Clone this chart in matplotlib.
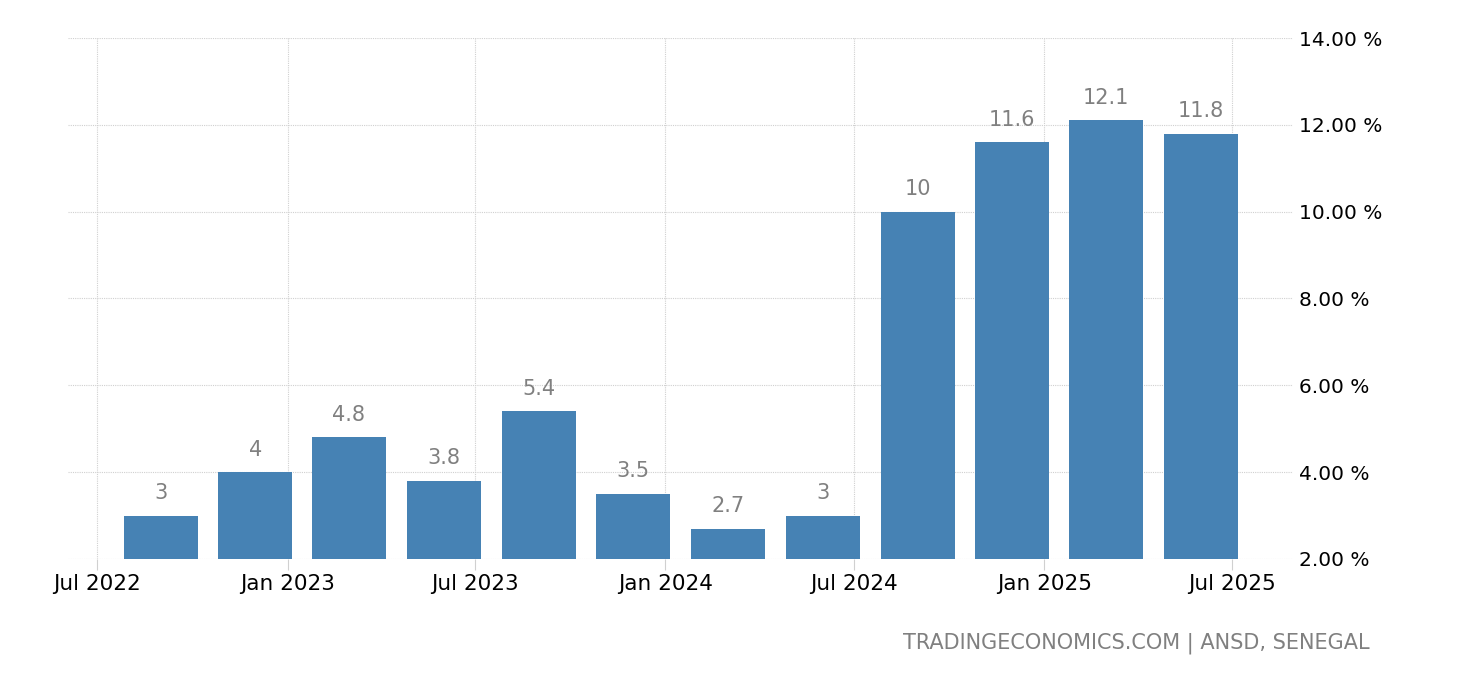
import matplotlib
matplotlib.use("Agg")
import matplotlib.pyplot as plt
import matplotlib.dates as mdates
import numpy as np
import pandas as pd

# ---------------------------------------------------------------------------
# Data
# ---------------------------------------------------------------------------
dates = pd.to_datetime([
    "2022-09-01", "2022-12-01", "2023-03-01", "2023-06-01",
    "2023-09-01", "2023-12-01", "2024-03-01", "2024-06-01",
    "2024-09-01", "2024-12-01", "2025-03-01", "2025-06-01",
])
values = [3, 4, 4.8, 3.8, 5.4, 3.5, 2.7, 3, 10, 11.6, 12.1, 11.8]
value_labels = ["3", "4", "4.8", "3.8", "5.4", "3.5", "2.7", "3",
                "10", "11.6", "12.1", "11.8"]
y_ticks = [2, 4, 6, 8, 10, 12, 14]
source = "TRADINGECONOMICS.COM | ANSD, SENEGAL"

BAR_COLOR = "#4682b4"
GRID_COLOR = "#d0d0d0"

# ---------------------------------------------------------------------------
# Plot
# ---------------------------------------------------------------------------
fig = plt.figure(figsize=(14.6, 6.8), dpi=100)
ax = fig.add_axes([68 / 1460, 1 - 559 / 680, (1293 - 68) / 1460, (559 - 38) / 680])

ax.bar(dates, np.array(values) - 2, bottom=2, width=71.5, color=BAR_COLOR, zorder=2)

for d, v, lab in zip(dates, values, value_labels):
    ax.annotate(lab, (d, v), xytext=(0, 9), textcoords="offset points",
                ha="center", va="bottom", fontsize=15, color="#808080")

ax.set_ylim(2, 14)
ax.set_xlim(pd.Timestamp("2022-06-03"), pd.Timestamp("2025-08-29"))

ax.xaxis.set_major_locator(mdates.MonthLocator(bymonth=[1, 7]))
ax.xaxis.set_major_formatter(mdates.DateFormatter("%b %Y"))
ax.yaxis.tick_right()
ax.set_yticks(y_ticks)
ax.set_yticklabels([f"{t:.2f} %" for t in y_ticks])

ax.grid(True, color=GRID_COLOR, linestyle=(0, (1, 1)), linewidth=0.8, zorder=0)
for s in ax.spines.values():
    s.set_visible(False)

ax.tick_params(axis="x", length=8, color=GRID_COLOR, labelsize=15.5, pad=3)
ax.tick_params(axis="y", length=0, labelsize=14.5, pad=4)

fig.text(1370 / 1460, 1 - 643 / 680, source, ha="right", va="center",
         fontsize=15, color="#808080")

fig.savefig("out.png", dpi=100)
